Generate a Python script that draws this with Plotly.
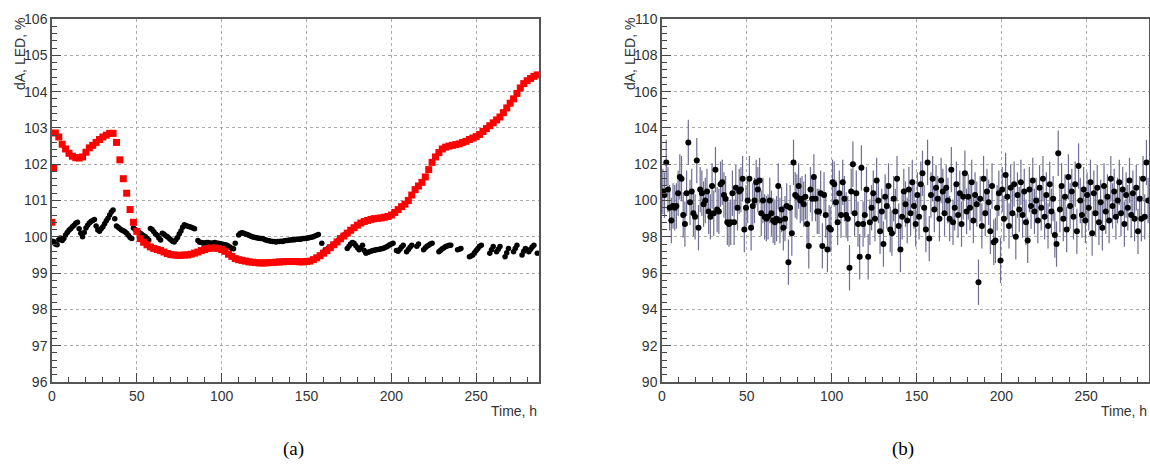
import plotly.graph_objects as go

# ---------------- Panel (a) data ----------------
red_t = [0, 1] + list(range(2, 287, 2))
red_v = [100.40, 101.90,
    102.86, 102.75, 102.55, 102.42, 102.30, 102.22, 102.18, 102.17, 102.20, 102.33,
    102.45, 102.52, 102.60, 102.68, 102.75, 102.80, 102.85, 102.85, 102.60, 102.12,
    101.60, 101.20, 100.75, 100.40, 100.15, 99.95, 99.85, 99.78, 99.72, 99.68,
    99.65, 99.62, 99.58, 99.54, 99.51, 99.50, 99.49, 99.49, 99.50, 99.50,
    99.52, 99.55, 99.58, 99.62, 99.65, 99.68, 99.69, 99.69, 99.68, 99.65,
    99.60, 99.52, 99.46, 99.40, 99.37, 99.35, 99.33, 99.31, 99.30, 99.29,
    99.28, 99.28, 99.28, 99.29, 99.29, 99.30, 99.31, 99.31, 99.32, 99.32,
    99.32, 99.32, 99.31, 99.31, 99.32, 99.33, 99.37, 99.42, 99.48, 99.55,
    99.62, 99.70, 99.78, 99.86, 99.95, 100.02, 100.10, 100.18, 100.25, 100.32,
    100.38, 100.42, 100.45, 100.48, 100.50, 100.51, 100.52, 100.54, 100.56, 100.60,
    100.67, 100.75, 100.83, 100.90, 101.00, 101.15, 101.30, 101.40, 101.50, 101.65,
    101.85, 102.05, 102.20, 102.32, 102.42, 102.47, 102.50, 102.52, 102.54, 102.56,
    102.60, 102.63, 102.68, 102.72, 102.76, 102.82, 102.90, 102.98, 103.06, 103.14,
    103.22, 103.30, 103.42, 103.55, 103.68, 103.80, 103.95, 104.10, 104.22, 104.30,
    104.36, 104.42, 104.46]

black_t = list(range(0, 287))
black_v = [
    99.88, 99.87, 99.80, 99.78, 99.92, 99.97, 99.90, 99.95, 100.05, 100.12,
    100.18, 100.22, 100.28, 100.32, 100.37, 100.40, 100.22, 100.10, 100.00, 100.12,
    100.24, 100.32, 100.38, 100.42, 100.45, 100.48, 100.30, 100.19, 100.15, 100.22,
    100.28, 100.36, 100.44, 100.51, 100.60, 100.68, 100.74, 100.50, 100.30, 100.26,
    100.22, 100.19, 100.17, 100.14, 100.10, 100.04, 99.98, 99.95, 100.24, 100.20,
    100.17, 100.14, 100.10, 100.06, 100.03, 100.00, 99.95, 99.91, 100.23, 100.20,
    100.14, 100.08, 100.04, 99.97, 99.91, 100.10, 100.07, 100.03, 100.00, 99.96,
    99.92, 99.88, 99.86, 99.92, 99.98, 100.08, 100.16, 100.26, 100.33, 100.31,
    100.29, 100.28, 100.26, 100.24, 100.22, None, 99.90, 99.85, 99.84, 99.83,
    99.83, 99.84, 99.84, 99.83, 99.82, 99.83, 99.84, 99.82, 99.82, 99.81,
    99.80, 99.79, 99.78, 99.77, 99.74, 99.71, 99.68, 99.67, 99.82, None,
    100.05, 100.10, 100.11, 100.10, 100.08, 100.06, 100.04, 100.02, 100.00, 99.99,
    99.98, 99.97, 99.96, 99.95, 99.95, 99.93, 99.91, 99.90, 99.89, 99.88,
    99.87, 99.87, 99.86, 99.87, 99.87, 99.88, 99.87, 99.89, 99.90, 99.90,
    99.91, 99.91, 99.92, 99.92, 99.93, 99.93, 99.93, 99.94, 99.95, 99.95,
    99.96, 99.97, 99.98, 99.99, 100.00, 100.02, 100.04, 100.06, None, 99.82,
    None, 99.64, 99.66, 99.69, 99.72, 99.75, 99.78, 99.82, 99.87, 99.92,
    99.96, 100.00, 100.05, None, 99.68, 99.74, 99.80, 99.84, 99.82, 99.76,
    99.70, 99.64, 99.70, 99.77, 99.62, 99.55, 99.57, 99.59, 99.60, 99.62,
    99.63, 99.64, 99.65, 99.66, 99.67, 99.68, 99.70, 99.72, 99.75, 99.78,
    99.80, 99.82, None, 99.62, 99.60, 99.66, 99.72, 99.77, None, 99.59,
    99.65, 99.71, 99.77, None, None, 99.74, 99.80, None, None, 99.64,
    99.70, 99.74, 99.77, 99.80, 99.82, None, None, None, 99.59, 99.63,
    99.67, 99.70, 99.73, 99.75, 99.77, 99.77, None, None, None, 99.64,
    99.66, 99.68, None, None, None, None, 99.45, 99.47, 99.50, 99.56,
    99.62, 99.68, 99.74, 99.77, None, None, None, None, 99.55, 99.64,
    99.73, None, 99.59, 99.66, 99.73, None, None, 99.45, 99.56, 99.68,
    None, None, 99.59, 99.68, 99.77, None, None, 99.50, 99.60, 99.68,
    None, 99.59, 99.66, 99.72, 99.77, None, 99.55]

# ---------------- Panel (b) data ----------------
b_t = [h + 0.5 for h in range(0, 287)]
b_v = [
    100.5, 100.3, 102.1, 100.6, 99.6, 98.9, 99.7, 99.6, 99.7, 100.4,
    101.3, 101.2, 99.2, 98.7, 100.4, 103.2, 99.9, 100.5, 99.3, 99.1,
    102.2, 98.5, 100.6, 100.4, 99.8, 100.0, 100.5, 99.4, 99.1, 100.8,
    99.3, 101.7, 99.5, 99.4, 100.9, 101.0, 100.3, 100.1, 98.8, 98.7,
    98.8, 100.4, 98.8, 100.7, 99.6, 100.5, 100.6, 101.2, 98.4, 99.6,
    100.0, 101.2, 98.5, 99.7, 100.0, 101.0, 100.6, 101.1, 99.3, 100.0,
    99.1, 99.0, 99.1, 100.0, 99.3, 98.9, 98.8, 99.0, 100.8, 98.9,
    99.5, 98.5, 99.0, 99.7, 96.6, 99.6, 98.2, 102.1, 100.3, 100.2,
    100.8, 100.0, 100.1, 99.8, 100.2, 98.7, 97.5, 100.6, 100.1, 101.3,
    100.1, 99.4, 99.4, 100.4, 97.5, 100.3, 99.2, 97.3, 98.5, 98.4,
    101.0, 100.9, 99.9, 98.8, 100.4, 99.2, 101.0, 100.1, 99.2, 99.0,
    96.3, 100.5, 102.0, 99.3, 100.4, 98.7, 96.9, 101.8, 98.7, 99.2,
    100.6, 96.9, 98.8, 99.6, 100.4, 99.0, 101.1, 100.0, 98.3, 99.4,
    97.6, 100.2, 99.7, 100.8, 98.4, 98.2, 100.1, 99.4, 101.2, 98.6,
    97.3, 99.1, 100.5, 99.8, 98.9, 100.6, 99.3, 101.0, 99.7, 98.7,
    100.3, 99.1, 100.9, 101.5, 99.6, 98.4, 102.1, 97.9, 100.3, 101.2,
    99.5, 100.7, 100.1, 99.0, 101.1, 100.5, 99.3, 100.7, 100.0, 99.0,
    101.7, 98.8, 99.6, 100.9, 99.2, 100.4, 98.7, 100.2, 101.5, 99.4,
    100.2, 99.6, 101.0, 98.9, 100.3, 99.8, 95.5, 100.1, 98.6, 101.2,
    99.3, 100.5, 99.9, 98.3, 100.8, 97.7, 97.8, 99.6, 100.4, 96.7,
    100.6, 99.0, 101.4, 100.2, 98.6, 100.7, 99.3, 100.9, 98.0, 100.3,
    99.5, 101.0, 99.2, 100.5, 98.8, 97.8, 100.6, 99.7, 101.1, 99.4,
    100.0, 98.9, 100.7, 99.6, 101.2, 99.1, 100.3, 98.6, 100.9, 99.4,
    100.1, 98.1, 97.6, 102.6, 99.5, 100.8, 99.0, 100.2, 98.4, 101.3,
    99.7, 100.5, 99.1, 100.9, 98.3, 101.9, 100.0, 99.2, 100.6, 98.9,
    100.3, 99.6, 101.0, 98.2, 100.4, 99.3, 100.7, 98.8, 99.9, 98.5,
    100.8, 99.4, 100.2, 98.9, 101.2, 99.7, 100.5, 99.1, 100.0, 101.0,
    99.3, 100.6, 98.7, 100.3, 99.6, 101.1, 99.2, 100.4, 99.0, 100.7,
    98.3, 100.1, 99.0, 101.2, 99.1, 102.1, 100.0]
b_err = 1.25

x_range = [0, 287]
ya_range = [96, 106]
yb_range = [90, 110]
x_title = "Time, h"
y_title = "dA, LED, %"
panel_labels = ["(a)", "(b)"]

W, H = 1150, 468
def px_x(p):
    return p / W
def px_y(p):
    return 1 - p / H

fig = go.Figure()
fig.add_trace(go.Scatter(x=black_t, y=black_v, mode="markers", xaxis="x", yaxis="y",
                         marker=dict(symbol="circle", size=5.5, color="black"),
                         showlegend=False))
fig.add_trace(go.Scatter(x=red_t, y=red_v, mode="markers", xaxis="x", yaxis="y",
                         marker=dict(symbol="square", size=7, color="#ff0000"),
                         showlegend=False))
fig.add_trace(go.Scatter(x=b_t, y=b_v, mode="markers", xaxis="x2", yaxis="y2",
                         marker=dict(symbol="circle", size=6, color="black"),
                         error_y=dict(type="constant", value=b_err, color="#6f6f93",
                                      thickness=1.2, width=0),
                         showlegend=False))

tickfont = dict(family="Liberation Sans, Arial, sans-serif", size=14, color="#333")
common_x = dict(range=x_range, dtick=50, tick0=0, ticks="inside", ticklen=9,
                tickcolor="#444", showline=True, linecolor="#555", linewidth=1.5,
                mirror=True, showgrid=True, gridcolor="#aaaaaa", griddash="dot",
                gridwidth=1, zeroline=False, tickfont=tickfont, automargin=False,
                minor=dict(dtick=10, ticks="inside", ticklen=5, tickcolor="#444",
                           showgrid=False))
def common_y(rng, dt):
    return dict(range=rng, dtick=dt, tick0=rng[0], ticks="inside", ticklen=9,
                tickcolor="#444", showline=True, linecolor="#555", linewidth=1.5,
                mirror=True, showgrid=True, gridcolor="#aaaaaa", griddash="dot",
                gridwidth=1, zeroline=False, tickfont=tickfont, automargin=False,
                minor=dict(dtick=dt / 5, ticks="inside", ticklen=5,
                           tickcolor="#444", showgrid=False))

yd = [px_y(382), px_y(19)]
fig.update_layout(
    template="none",
    width=W, height=H, margin=dict(l=0, r=0, t=0, b=0, pad=0, autoexpand=False),
    paper_bgcolor="white", plot_bgcolor="white",
    xaxis=dict(domain=[px_x(52), px_x(539)], anchor="y", **common_x),
    yaxis=dict(domain=yd, anchor="x", **common_y(ya_range, 1)),
    xaxis2=dict(domain=[px_x(662), px_x(1149)], anchor="y2", **common_x),
    yaxis2=dict(domain=yd, anchor="x2", **common_y(yb_range, 2)),
)

ann_font = dict(family="Liberation Sans, Arial, sans-serif", size=14, color="#333")
for xr in [539, 1149]:
    fig.add_annotation(x=px_x(xr), y=px_y(401), xref="paper", yref="paper",
                       text=x_title, showarrow=False, xanchor="right", yanchor="top",
                       font=ann_font)
for yl in [20, 630]:
    fig.add_annotation(x=px_x(yl), y=px_y(16), xref="paper", yref="paper",
                       text=y_title, showarrow=False, textangle=-90,
                       xanchor="center", yanchor="top", font=ann_font)
for lab, lx in zip(panel_labels, [293, 903]):
    fig.add_annotation(x=px_x(lx), y=px_y(449), xref="paper", yref="paper",
                       text=lab, showarrow=False, xanchor="center", yanchor="middle",
                       font=dict(family="Liberation Serif, Times New Roman, serif",
                                 size=19, color="black"))

fig.write_html("out.html",
               config={"displayModeBar": False},
               post_script="document.body.style.margin='0px';"
                           "document.body.style.overflow='hidden';")
